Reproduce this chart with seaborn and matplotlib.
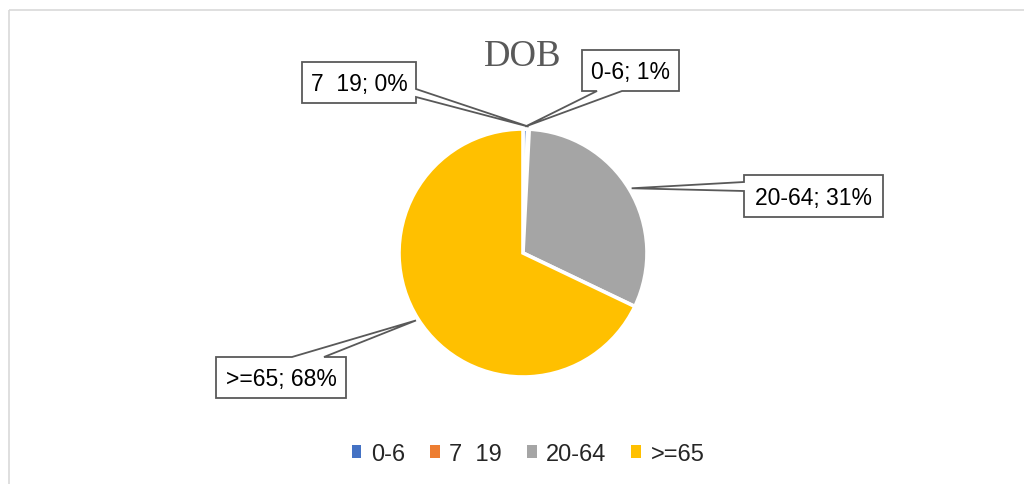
import numpy as np
import matplotlib
matplotlib.use('Agg')
import matplotlib.pyplot as plt
from matplotlib.patches import Rectangle, Polygon, Patch
import seaborn as sns

# data
categories = ['0-6', '7  19', '20-64', '>=65']
counts = [6, 2, 313, 679]
colors = ['#4472C4', '#ED7D31', '#A5A5A5', '#FFC000']
title = 'DOB'

# callout layout in pixels: box (left, top, right, bottom), edge the pointer leaves from, pointer base span
callouts = {
    '0-6': ((582, 51, 679, 92), 'bottom', (597, 622)),
    '7  19': ((302, 63, 416, 104), 'right', (90, 98)),
    '20-64': ((744, 176, 883, 218), 'left', (183, 192)),
    '>=65': ((216, 358, 346, 399), 'top', (292, 324)),
}

W, H = 1024, 485
PIE_CX, PIE_CY, PIE_R = 523, 254, 124


def callout_outline(box, side, base, tip):
    l, t, r, b = box
    b0, b1 = base
    if side == 'top':
        return [(l, t), (b0, t), tip, (b1, t), (r, t), (r, b), (l, b)]
    if side == 'right':
        return [(l, t), (r, t), (r, b0), tip, (r, b1), (r, b), (l, b)]
    if side == 'bottom':
        return [(l, t), (r, t), (r, b), (b1, b), tip, (b0, b), (l, b)]
    return [(l, t), (r, t), (r, b), (l, b), (l, b1), tip, (l, b0)]


sns.set_theme(style='white')
plt.rcParams['font.family'] = ['Liberation Sans', 'DejaVu Sans']

fig = plt.figure(figsize=(W / 100, H / 100), dpi=100)

ax_pie = fig.add_axes([(PIE_CX - PIE_R) / W, (H - PIE_CY - PIE_R) / H, 2 * PIE_R / W, 2 * PIE_R / H])
wedges, _ = ax_pie.pie(counts, colors=colors, startangle=90, counterclock=False,
                       wedgeprops=dict(edgecolor='white', linewidth=2.6))
ax_pie.set_xlim(-1, 1)
ax_pie.set_ylim(-1, 1)

# overlay in pixel coords for frame, title and callouts
ax = fig.add_axes([0, 0, 1, 1])
ax.set_xlim(0, W)
ax.set_ylim(H, 0)
ax.axis('off')
ax.patch.set_visible(False)
ax.add_patch(Rectangle((8.5, 10.5), 3000, 3000, fill=False, edgecolor='#D9D9D9', linewidth=1.2))

ax.text(PIE_CX, 66, title, ha='center', va='baseline', fontsize=26.5,
        family=['Liberation Serif', 'DejaVu Serif'], color='#595959')

total = sum(counts)
to_ov = ax.transData.inverted()
for cat, w, n in zip(categories, wedges, counts):
    box, side, base = callouts[cat]
    mid = np.deg2rad((w.theta1 + w.theta2) / 2)
    tip = to_ov.transform(ax_pie.transData.transform((1.02 * np.cos(mid), 1.02 * np.sin(mid))))
    pts = callout_outline(box, side, base, tuple(tip))
    ax.add_patch(Polygon(pts, closed=True, facecolor='white', edgecolor='#595959', linewidth=1.3))
    l, t, r, b = box
    ax.text((l + r) / 2, (t + b) / 2 + 8, f'{cat}; {round(100 * n / total)}%',
            ha='center', va='baseline', fontsize=16.5, color='black')

handles = [Patch(facecolor=c, edgecolor='none') for c in colors]
fig.legend(handles, categories, loc='center', bbox_to_anchor=(528 / W, 1 - 455 / H), ncol=4,
           frameon=False, fontsize=17, handlelength=0.42, handleheight=0.42,
           handletextpad=0.4, columnspacing=1.05)

fig.savefig('out.png', dpi=100)
